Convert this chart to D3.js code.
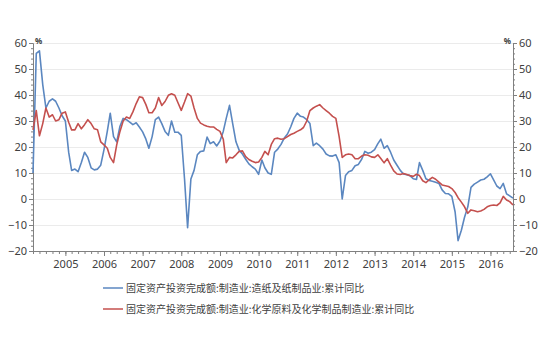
<!DOCTYPE html>
<html><head><meta charset="utf-8">
<script src="https://cdn.jsdelivr.net/npm/d3@7"></script>
<style>
body{margin:0;background:#fff;}
text{font-family:"Noto Sans","Noto Sans CJK SC",sans-serif;}
</style></head>
<body><svg id="c" width="550" height="338"></svg>
<script>
// Monthly data, first month 2004-03, last month 2016-08
const firstMonth = "2004-03";
const seriesNames = [
  "固定资产投资完成额:制造业:造纸及纸制品业:累计同比",
  "固定资产投资完成额:制造业:化学原料及化学制品制造业:累计同比"
];
const paper = [
  10,56,57,44,35,37.6,38.5,37.6,35,32,
  30,18,11,11.5,10.5,14,18,16,12,11.2,
  11.5,13,19,26,33,24,22,28,31,30.5,
  29.6,28.6,29.3,27.7,25.8,23,19.5,24,30.5,31.5,
  29,26,24.5,30,25.7,25.7,24.5,7.7,-11,7.7,
  11,17,18.3,18.5,23.8,21.3,22,20.4,22.3,26,
  31,36,29,22,18.8,17.3,15.3,13.5,12.4,11.5,
  9.5,15,12,10,9.5,18,19.2,21,23.5,25,
  27.8,31,33,31.8,31.5,30.5,29,20.5,21.5,20.5,
  19.2,17.3,16.6,16.5,17,14,0,9,10.5,11,
  12.8,13.3,15.3,18.3,17.6,18,19,21.3,23,19.5,
  20.5,18,15,13,11,9.6,9.3,9,7.8,7.5,
  14,11,7.8,7.1,6.8,6.4,6,3.5,2.1,2,
  1,-5,-16,-12,-7,-3,4.5,5.7,6.5,7.3,
  7.6,8.5,9.7,7.3,5,4,6,2,1.2,0.3
];
const chemical = [
  26.6,34,24.3,29,35,31.5,32.4,30,30.5,33,
  33.5,29.5,26.6,26.6,29,27,28.6,30.5,29,27,
  26.6,22,20.8,19.5,16,14,20.8,26,30,31.5,
  31,33.5,36.7,39.3,39,36.3,33.2,33.2,35,39,
  36,37.5,39.9,40.5,39.9,37,34.1,37.3,40.5,39.6,
  35,31,29.2,28.5,28,27.7,27.7,26.8,26,23,
  14,16,15.8,17,18.3,18.5,16.3,15.2,14.5,14,
  14.2,16,18.3,17,21,23.2,23.4,23,23.2,24,
  24.8,25.3,26,26.6,27.5,30,34,35,35.7,36.3,
  35,34,33,31.8,31,24,16,17,17.3,17,
  15.5,15.5,16.5,17,16.8,16.2,16,17,15.6,13.9,
  15.5,13,10.8,9.6,9.4,9.8,9.4,9,8.7,9.5,
  9,7,6.3,7.4,8.3,7.6,6.5,5.4,5.1,4.8,
  4,2.5,0.5,-1.2,-3,-5.5,-4.2,-4.5,-4.9,-4.6,
  -4,-3,-2.5,-2.3,-2.5,-1.5,1,-0.4,-1,-2.3
];
const yTicks = [-20,-10,0,10,20,30,40,50,60];
const yearLabels = [2005,2006,2007,2008,2009,2010,2011,2012,2013,2014,2015,2016];
const colors = ["#5b87c0","#c4504e"];

const svg = d3.select("#c");
const L = 33, R = 513, T = 43, B = 251;
const start = d3.timeParse("%Y-%m")(firstMonth);
const dates = paper.map((_, i) => d3.timeMonth.offset(start, i));
const x = d3.scaleTime().domain([dates[0], dates[dates.length-1]]).range([L, R]);
const y = d3.scaleLinear().domain([-20, 60]).range([B, T]);

// grid
svg.append("g").selectAll("line").data(yTicks.filter(d => d > -20)).join("line")
  .attr("x1", L).attr("x2", R).attr("y1", d => y(d)).attr("y2", d => y(d))
  .attr("stroke", "#ebebeb").attr("stroke-width", 1).attr("shape-rendering","crispEdges");

const axisColor = "#808080";
const txtColor = "#404040";
function styleAxis(g){
  g.selectAll(".domain").attr("stroke", axisColor);
  g.selectAll(".tick line").attr("stroke", axisColor);
  g.selectAll(".tick text").attr("fill", txtColor).style("font-size","11px")
    .style("font-family","'Noto Sans',sans-serif");
}
const minorY = d3.range(-20, 61, 2);
// minor y ticks
const gLm = svg.append("g").attr("transform", `translate(${L},0)`)
  .call(d3.axisLeft(y).tickValues(minorY).tickSize(2).tickFormat("").tickSizeOuter(0));
styleAxis(gLm);
const gL = svg.append("g").attr("transform", `translate(${L},0)`)
  .call(d3.axisLeft(y).tickValues(yTicks).tickSize(4).tickPadding(2).tickSizeOuter(0));
styleAxis(gL);
const gRm = svg.append("g").attr("transform", `translate(${R},0)`)
  .call(d3.axisRight(y).tickValues(minorY).tickSize(2).tickFormat("").tickSizeOuter(0));
styleAxis(gRm);
const gR = svg.append("g").attr("transform", `translate(${R},0)`)
  .call(d3.axisRight(y).tickValues(yTicks).tickSize(4).tickPadding(2).tickSizeOuter(0));
styleAxis(gR);

// x axis
const minorX = d3.timeMonth.every(2).range(dates[0], d3.timeMonth.offset(dates[dates.length-1],1));
const gXm = svg.append("g").attr("transform", `translate(0,${B})`)
  .call(d3.axisBottom(x).tickValues(minorX).tickSize(3).tickFormat("").tickSizeOuter(0));
styleAxis(gXm);
const gX = svg.append("g").attr("transform", `translate(0,${B})`)
  .call(d3.axisBottom(x).tickValues(yearLabels.map(yv => new Date(yv,0,1)))
    .tickFormat(d3.timeFormat("%Y")).tickSize(5).tickPadding(4).tickSizeOuter(0));
styleAxis(gX);

// % labels
svg.append("text").attr("x", L+2).attr("y", T+1).text("%")
  .attr("fill", txtColor).style("font-size","8px").style("font-weight","bold");
svg.append("text").attr("x", R-2).attr("y", T+1).attr("text-anchor","end").text("%")
  .attr("fill", txtColor).style("font-size","8px").style("font-weight","bold");

// lines
const line = d3.line().x((d,i) => x(dates[i])).y(d => y(d));
[paper, chemical].forEach((s, k) => {
  svg.append("path").datum(s).attr("d", line).attr("fill","none")
    .attr("stroke", colors[k]).attr("stroke-width", 1.6).attr("stroke-linejoin","round");
});

// legend
const lg = svg.append("g");
seriesNames.forEach((name, k) => {
  const ly = 288 + k*21;
  lg.append("line").attr("x1",103).attr("x2",123).attr("y1",ly).attr("y2",ly)
    .attr("stroke", colors[k]).attr("stroke-width",1.5);
  lg.append("text").attr("x",126).attr("y",ly).attr("dy","0.35em").text(name)
    .attr("fill", txtColor).style("font-size","10px")
    .style("font-family","'Noto Sans CJK SC',sans-serif");
});
</script>
</body></html>
